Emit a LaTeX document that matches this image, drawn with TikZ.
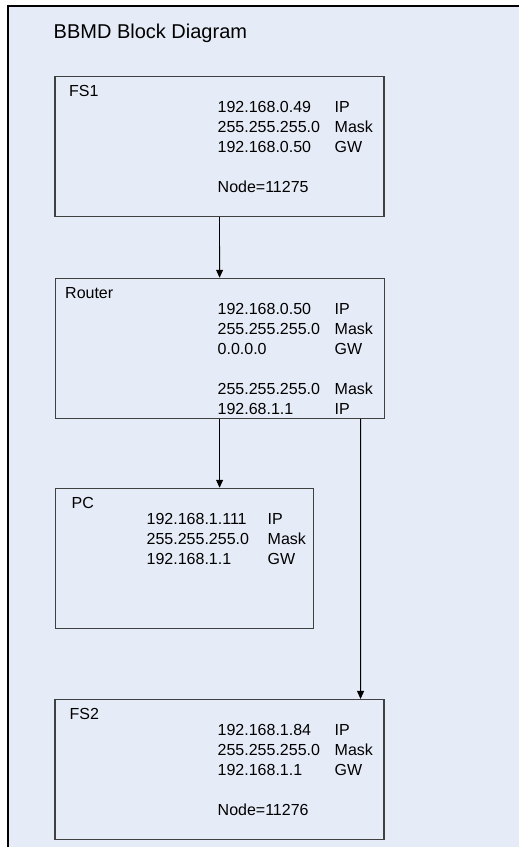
\documentclass[tikz,border=0pt]{standalone}
\usepackage{fontspec}
\setmainfont{Liberation Sans}
\usetikzlibrary{arrows.meta,calc}
\definecolor{bgblue}{RGB}{230,236,247}
\definecolor{boxline}{RGB}{64,64,64}
\begin{document}
\begin{tikzpicture}[x=1pt,y=-1pt,
  blockbox/.style={draw=boxline,line width=1.1pt,rectangle,inner sep=0pt,minimum height=140pt},
  txt/.style={anchor=base west,inner sep=0pt,font=\fontsize{16}{20}\selectfont},
  titletxt/.style={anchor=base west,inner sep=0pt,font=\fontsize{20}{24}\selectfont},
  conn/.style={draw=black,line width=0.9pt,-{Triangle[length=8pt,width=7pt]}}]
\useasboundingbox (0,0) rectangle (519,847);
\fill[white] (0,0) rectangle (519,847);
\fill[bgblue] (8,6) rectangle (519,847);
\draw[black,line width=1.5pt] (8,847) -- (8,6) -- (519,6);
\node[titletxt] (title) at (53.5,38.3) {BBMD Block Diagram};
% boxes
\node[blockbox,minimum width=329pt] (fs1) at (219.5,146.5) {};
\node[blockbox,minimum width=329pt] (router) at (219.6,348.3) {};
\node[blockbox,minimum width=258.3pt] (pc) at (184.2,558.3) {};
\node[blockbox,minimum width=329pt] (fs2) at (219.5,769.5) {};
% FS1 texts
\node[txt] (fs1l) at (69,96.5) {FS1};
\node[txt] (fs1a) at (217.5,112.5) {192.168.0.49};
\node[txt] (fs1b) at (217.5,132.5) {255.255.255.0};
\node[txt] (fs1c) at (217.5,152.5) {192.168.0.50};
\node[txt] (fs1d) at (217.5,192.5) {Node=11275};
\node[txt] (fs1ia) at (334.5,112.5) {IP};
\node[txt] (fs1ib) at (334.5,132.5) {Mask};
\node[txt] (fs1ic) at (334.5,152.5) {GW};
% Router texts
\node[txt] (rl) at (65,298.3) {Router};
\node[txt] (ra) at (217.5,314.3) {192.168.0.50};
\node[txt] (rb) at (217.5,334.3) {255.255.255.0};
\node[txt] (rc) at (217.5,354.3) {0.0.0.0};
\node[txt] (rd) at (217.5,394.3) {255.255.255.0};
\node[txt] (re) at (217.5,414.3) {192.68.1.1};
\node[txt] (ria) at (334.5,314.3) {IP};
\node[txt] (rib) at (334.5,334.3) {Mask};
\node[txt] (ric) at (334.5,354.3) {GW};
\node[txt] (rid) at (334.5,394.3) {Mask};
\node[txt] (rie) at (334.5,414.3) {IP};
% PC texts
\node[txt] (pcl) at (71.5,508.3) {PC};
\node[txt] (pca) at (146.5,524.3) {192.168.1.111};
\node[txt] (pcb) at (146.5,544.3) {255.255.255.0};
\node[txt] (pcc) at (146.5,564.3) {192.168.1.1};
\node[txt] (pcia) at (267.5,524.3) {IP};
\node[txt] (pcib) at (267.5,544.3) {Mask};
\node[txt] (pcic) at (267.5,564.3) {GW};
% FS2 texts
\node[txt] (fs2l) at (69.5,719.3) {FS2};
\node[txt] (fs2a) at (217.5,735.3) {192.168.1.84};
\node[txt] (fs2b) at (217.5,755.3) {255.255.255.0};
\node[txt] (fs2c) at (217.5,775.3) {192.168.1.1};
\node[txt] (fs2d) at (217.5,815.3) {Node=11276};
\node[txt] (fs2ia) at (334.5,735.3) {IP};
\node[txt] (fs2ib) at (334.5,755.3) {Mask};
\node[txt] (fs2ic) at (334.5,775.3) {GW};
% connectors
\coordinate (rout2) at ($(router.south east)+(-24,0)$);
\coordinate (fs2in) at ($(fs2.north east)+(-24,0)$);
\draw[conn] (fs1.south) -- (router.north);
\draw[conn] (router.south) -- (router.south |- pc.north);
\draw[conn] (rout2) -- (fs2in);
\end{tikzpicture}
\end{document}
